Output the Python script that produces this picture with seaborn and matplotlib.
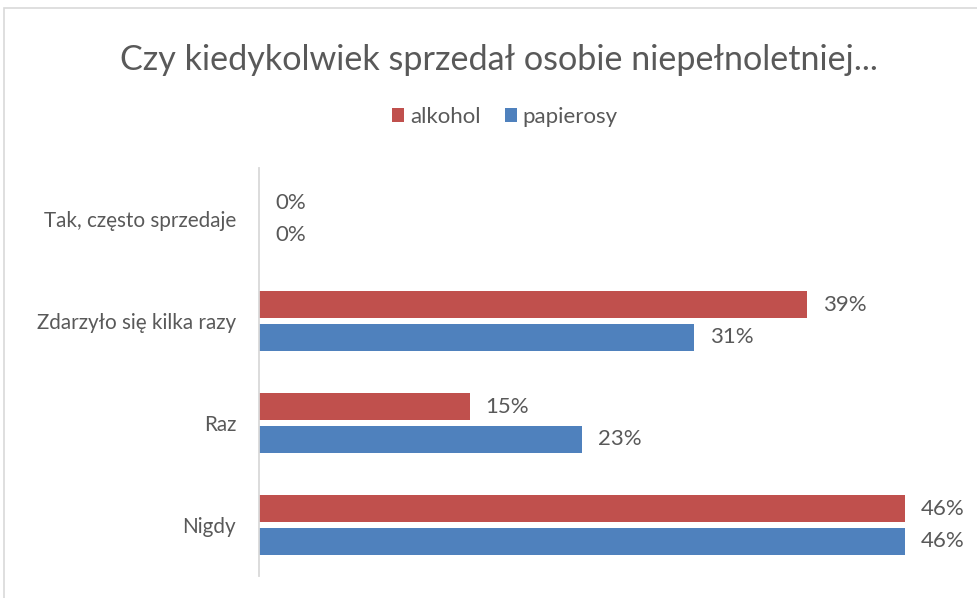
import matplotlib
matplotlib.use("Agg")
import matplotlib.pyplot as plt
import seaborn as sns
import pandas as pd
from matplotlib.patches import Rectangle, Patch

categories = ["Tak, często sprzedaje", "Zdarzyło się kilka razy", "Raz", "Nigdy"]
series = ["alkohol", "papierosy"]
alkohol = [0, 39, 15, 46]
papierosy = [0, 31, 23, 46]
colors = ["#C0504D", "#4F81BD"]
title = "Czy kiedykolwiek sprzedał osobie niepełnoletniej..."

df = pd.DataFrame({
    "kategoria": categories * 2,
    "seria": [series[0]] * len(categories) + [series[1]] * len(categories),
    "wartosc": alkohol + papierosy,
})

sns.set_theme(style="white")
FONT = ["Lato", "DejaVu Sans"]
plt.rcParams["font.family"] = FONT
TXT = "#595959"

fig = plt.figure(figsize=(9.77, 5.98), dpi=100)
ax = fig.add_axes([259 / 977, 1 - 576 / 598, (961 - 259) / 977, (576 - 168) / 598])

sns.barplot(data=df, y="kategoria", x="wartosc", hue="seria", order=categories,
            hue_order=series, palette=colors, orient="h", width=0.647, gap=0.18,
            saturation=1, ax=ax, legend=False, edgecolor="none")

ax.set_xlim(0, 50)
ax.set_ylim(3.5, -0.5)
ax.set_xlabel("")
ax.set_ylabel("")
ax.set_xticks([])
for s in ["top", "right", "bottom"]:
    ax.spines[s].set_visible(False)
ax.spines["left"].set_color("#D9D9D9")
ax.spines["left"].set_linewidth(1.3)
ax.tick_params(axis="y", length=0, pad=16.5, labelsize=14.9, labelcolor=TXT)

for cont in ax.containers:
    labels = [f"{v:.0f}%" for v in cont.datavalues]
    ax.bar_label(cont, labels=labels, padding=11.5, fontsize=16, color=TXT)

fig.text(499 / 977, 1 - 60 / 598, title, ha="center", va="center",
         fontsize=24.6, color=TXT)

handles = [Patch(facecolor=c, edgecolor="none") for c in colors]
fig.legend(handles, series, loc="center", bbox_to_anchor=(505 / 977, 1 - 117 / 598),
           ncol=2, frameon=False, fontsize=16, labelcolor=TXT,
           handlelength=0.55, handleheight=0.55, handletextpad=0.25, columnspacing=1.1)

fig.patches.append(Rectangle((4 / 977, -0.1), 1.2, 1 - 8.5 / 598 + 0.1,
                             transform=fig.transFigure, fill=False,
                             edgecolor="#D9D9D9", linewidth=1.2))

fig.savefig("out.png", dpi=100, facecolor="white")
